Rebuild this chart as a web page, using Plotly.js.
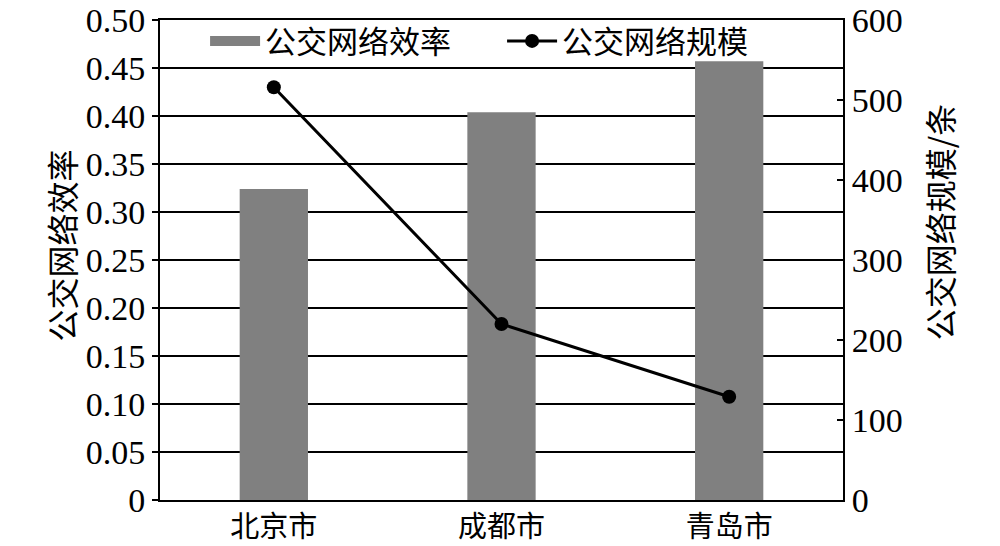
<!DOCTYPE html>
<html>
<head>
<meta charset="utf-8">
<script src="https://cdn.plot.ly/plotly-3.0.1.min.js"></script>
<style>html,body{margin:0;padding:0;background:#fff;}#chart{width:1000px;height:546px;}</style>
</head>
<body>
<div id="chart"></div>
<script>
const cities = ["北京市", "成都市", "青岛市"];
const efficiency = [0.324, 0.404, 0.457];
const scale = [516, 220, 129];
const leftTickVals = [0, 0.05, 0.10, 0.15, 0.20, 0.25, 0.30, 0.35, 0.40, 0.45, 0.50];
const leftTickText = ["0", "0.05", "0.10", "0.15", "0.20", "0.25", "0.30", "0.35", "0.40", "0.45", "0.50"];
const rightTickVals = [0, 100, 200, 300, 400, 500, 600];
const seriesNames = ["公交网络效率", "公交网络规模"];
const leftTitle = "公交网络效率";
const rightTitle = "公交网络规模/条";

const FONT = "'Liberation Serif', 'Times New Roman', 'Noto Sans CJK SC', serif";
const CJK = "'Noto Sans CJK SC', sans-serif";

const traces = [
  {
    type: "bar", x: cities, y: efficiency, name: seriesNames[0], showlegend: false,
    marker: {color: "#808080"}, width: 0.3, yaxis: "y", legendgroup: "eff"
  },
  {
    // legend key for the bars (wide grey swatch like the reference)
    type: "scatter", mode: "lines", x: [null], y: [null], name: seriesNames[0],
    line: {color: "#808080", width: 14}, yaxis: "y", legendgroup: "eff"
  },
  {
    type: "scatter", mode: "lines+markers", x: cities, y: scale, name: seriesNames[1],
    line: {color: "#000", width: 3}, marker: {color: "#000", size: 14}, yaxis: "y2"
  }
];

const layout = {
  width: 1000, height: 546,
  margin: {l: 160, r: 157, t: 20, b: 46},
  paper_bgcolor: "#fff", plot_bgcolor: "#fff",
  font: {family: FONT, color: "#000", size: 32},
  showlegend: true,
  legend: {
    orientation: "h", x: 0.066, y: 1.012, xanchor: "left", yanchor: "top",
    bgcolor: "rgba(0,0,0,0)", font: {family: CJK, size: 31, color: "#000"},
    itemwidth: 50, tracegroupgap: 0, entrywidth: 232, entrywidthmode: "pixels"
  },
  xaxis: {
    type: "category", showline: true, linecolor: "#000", linewidth: 2, mirror: true,
    ticks: "", tickfont: {family: CJK, size: 29, color: "#000"}, showgrid: false,
    fixedrange: true, ticklabelstandoff: 0
  },
  yaxis: {
    range: [0, 0.5], tickvals: leftTickVals, ticktext: leftTickText,
    showline: true, linecolor: "#000", linewidth: 2,
    ticks: "outside", ticklen: 6, tickcolor: "#000", tickwidth: 2,
    showgrid: true, gridcolor: "#000", gridwidth: 1.5, zeroline: false,
    tickfont: {family: FONT, size: 34, color: "#000"}
  },
  yaxis2: {
    range: [0, 600], tickvals: rightTickVals, overlaying: "y", side: "right",
    showline: true, linecolor: "#000", linewidth: 2,
    ticks: "inside", ticklen: 6, tickcolor: "#000", tickwidth: 2,
    showgrid: false, zeroline: false,
    tickfont: {family: FONT, size: 34, color: "#000"}
  },
  annotations: [
    {text: leftTitle, xref: "paper", yref: "paper", x: -0.145, y: 0.53, xanchor: "center", yanchor: "middle",
     textangle: -90, showarrow: false, font: {family: CJK, size: 32, color: "#000"}},
    {text: rightTitle, xref: "paper", yref: "paper", x: 1.14, y: 0.58, xanchor: "center", yanchor: "middle",
     textangle: -90, showarrow: false, font: {family: CJK, size: 32, color: "#000"}}
  ]
};

Plotly.newPlot("chart", traces, layout, {staticPlot: true, displayModeBar: false});
</script>
</body>
</html>
